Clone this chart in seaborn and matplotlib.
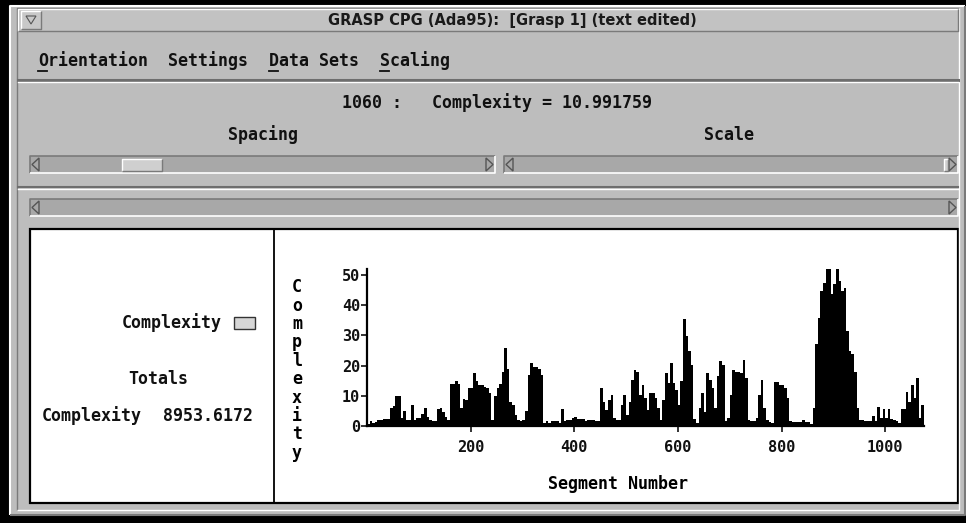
import numpy as np
import pandas as pd
import matplotlib
matplotlib.use("Agg")
import matplotlib.pyplot as plt
import seaborn as sns
from matplotlib.patches import Rectangle, Polygon

# complexity per segment in bins of 5 segments
bin_width = 5
segment_start = list(range(0, 1075, bin_width))
complexity = [
    0.8, 1.5, 1.0, 1.2, 2.0, 2.0, 2.3, 2.3, 2.2, 6.0, 6.5, 10.0, 10.0, 2.5, 5.0, 2.0, 2.0, 7.0, 2.0, 2.5,
    2.5, 4.0, 6.0, 3.0, 2.0, 1.5, 1.5, 5.5, 6.0, 4.5, 3.0, 2.0, 14.0, 14.0, 15.0, 14.0, 6.0, 9.0, 8.5, 12.5,
    12.5, 17.5, 15.0, 13.5, 13.5, 13.0, 12.5, 11.0, 2.0, 10.0, 12.5, 14.0, 18.0, 26.0, 19.0, 8.0, 7.0, 3.5, 2.0, 1.5,
    2.0, 5.0, 17.0, 21.0, 19.5, 19.5, 19.0, 17.0, 1.0, 1.5, 1.0, 1.5, 1.5, 1.5, 1.0, 5.5, 1.5, 2.0, 2.0, 2.8,
    3.0, 2.3, 2.3, 2.3, 1.7, 1.9, 2.0, 1.9, 1.5, 1.5, 12.5, 8.0, 5.3, 8.7, 10.3, 2.5, 2.0, 2.0, 7.0, 10.3,
    3.7, 8.0, 15.3, 18.7, 18.0, 10.3, 13.7, 9.4, 5.3, 11.0, 11.0, 9.2, 5.9, 2.0, 8.6, 17.5, 14.1, 20.8, 14.1, 12.0,
    7.0, 14.8, 35.3, 29.8, 24.8, 20.3, 2.3, 1.0, 5.9, 11.0, 4.8, 17.5, 15.3, 12.5, 5.9, 16.4, 21.4, 20.3, 1.5, 2.5,
    10.3, 18.7, 18.0, 18.0, 17.5, 22.0, 15.8, 2.0, 1.5, 1.5, 2.5, 10.3, 15.3, 5.9, 2.0, 1.2, 0.9, 14.5, 14.5, 13.7,
    13.7, 12.5, 9.2, 1.5, 1.2, 1.2, 1.2, 1.2, 1.9, 1.2, 1.2, 0.6, 5.9, 27.0, 35.8, 44.7, 47.5, 51.9, 51.9, 43.7,
    47.0, 51.9, 48.0, 44.7, 45.7, 31.5, 24.8, 23.7, 18.0, 5.9, 2.0, 2.0, 1.5, 1.5, 1.5, 3.2, 1.5, 6.4, 2.5, 5.5,
    2.5, 5.5, 2.3, 2.0, 1.5, 0.9, 5.5, 5.6, 11.4, 8.0, 13.7, 9.2, 15.8, 2.5, 7.0,
]
x_ticks = [200, 400, 600, 800, 1000]
y_ticks = [0, 10, 20, 30, 40, 50]

window_title = "GRASP CPG (Ada95):  [Grasp 1] (text edited)"
menu_items = ["Orientation", "Settings", "Data Sets", "Scaling"]
status_text = "1060 :   Complexity = 10.991759"
total_text = "8953.6172"

# bin centres so every value falls cleanly inside its own bin
df = pd.DataFrame({"segment": [s + bin_width / 2 for s in segment_start],
                   "complexity": complexity})

W, H = 966, 523
GRAY = "#bdbdbd"
DARK = "#7a7a7a"
MONO = "DejaVu Sans Mono"
FS = 12
INK = "#111111"

fig = plt.figure(figsize=(W / 100, H / 100), dpi=100, facecolor=GRAY)

# background axes in pixel coordinates for the window chrome
bg = fig.add_axes([0, 0, 1, 1])
bg.set_xlim(0, W)
bg.set_ylim(H, 0)
bg.axis("off")


def box(x0, y0, x1, y1, fc, ec="none", lw=0, z=1):
    bg.add_patch(Rectangle((x0, y0), x1 - x0, y1 - y0, facecolor=fc,
                           edgecolor=ec, linewidth=lw, zorder=z))


def bevel(x0, y0, x1, y1, sunken=True, lw=1.2, z=3):
    tl, br = (DARK, "white") if sunken else ("white", DARK)
    bg.plot([x0, x0, x1], [y1, y0, y0], color=tl, lw=lw, zorder=z, solid_capstyle="butt")
    bg.plot([x0, x1, x1], [y1, y1, y0], color=br, lw=lw, zorder=z, solid_capstyle="butt")


def slider(x0, y0, x1, y1, thumb=None):
    box(x0, y0, x1, y1, "#a8a8a8", z=2)
    bevel(x0, y0, x1, y1, sunken=True)
    ym = (y0 + y1) / 2
    h = (y1 - y0) / 2 - 2
    bg.add_patch(Polygon([[x0 + 9, ym - h], [x0 + 2, ym], [x0 + 9, ym + h]],
                         closed=True, facecolor="#a8a8a8", edgecolor="#555555", lw=1, zorder=4))
    bg.add_patch(Polygon([[x1 - 9, ym - h], [x1 - 2, ym], [x1 - 9, ym + h]],
                         closed=True, facecolor="#a8a8a8", edgecolor="#555555", lw=1, zorder=4))
    if thumb is not None:
        box(thumb[0], y0 + 2.5, thumb[1], y1 - 2.5, "#cfcfcf", z=4)
        bevel(thumb[0], y0 + 2.5, thumb[1], y1 - 2.5, sunken=False, lw=1, z=5)


def label(x, y, s, ha="left"):
    bg.text(x, y, s, ha=ha, va="center", fontsize=FS, family=MONO,
            fontweight="bold", color=INK, zorder=6)


# outer dark border and window frame
box(0, 0, W, H, "black", z=0)
box(10, 6, W, 515, GRAY, z=0.5)
bevel(10, 6, W - 1, 515, sunken=False, lw=1.5)
bevel(17, 8, 959, 510, sunken=True, lw=1)

# title bar
box(18, 9, 958, 31, "#c2c2c2", z=1)
bevel(18, 9, 958, 31, sunken=False, lw=1)
box(21, 11, 41, 29, "#c8c8c8", z=2)
bevel(21, 11, 41, 29, sunken=False, lw=1)
bg.add_patch(Polygon([[26, 16], [36, 16], [31, 24]], closed=True, facecolor="none",
                     edgecolor="#555555", lw=0.8, zorder=4))
bg.text(512, 20, window_title, ha="center", va="center", fontsize=10.5,
        fontweight="bold", color="#1a1a1a")

# menu bar
menu_x = [38, 168, 269, 380]
for mx, item in zip(menu_x, menu_items):
    label(mx, 61, item)
    if item != "Settings":
        bg.plot([mx, mx + 9], [71, 71], color=INK, lw=1.3, zorder=3)
bg.plot([18, 958], [80, 80], color="#6e6e6e", lw=2.2, zorder=3)
bg.plot([18, 958], [82, 82], color="white", lw=1, zorder=3)

# status line and slider labels
label(497, 103, status_text, ha="center")
label(263, 135, "Spacing", ha="center")
label(729, 135, "Scale", ha="center")
slider(30, 156, 495, 173, thumb=(122, 162))
slider(504, 156, 958, 173, thumb=(944, 948))

bg.plot([18, 958], [187, 187], color="#6e6e6e", lw=1.5, zorder=3)
bg.plot([18, 958], [189, 189], color="white", lw=1, zorder=3)
slider(30, 199, 958, 216)

# white drawing area
box(30, 229, 958, 503, "white", ec="black", lw=1.6, z=2)
bg.plot([274, 274], [229, 503], color="black", lw=1.3, zorder=3)

# left panel: legend and totals
label(222, 323, "Complexity", ha="right")
box(234, 317, 255, 329, "#d6d6d6", ec="#333333", lw=1, z=4)
label(158, 379, "Totals", ha="center")
label(42, 416, "Complexity")
label(253, 416, total_text, ha="right")

# the chart itself
x0, y0, x1, y1 = 367, 269, 924, 426
ax = fig.add_axes([x0 / W, 1 - y1 / H, (x1 - x0) / W, (y1 - y0) / H])
ax.set_facecolor("none")
sns.histplot(data=df, x="segment", weights="complexity",
             binwidth=bin_width, binrange=(0, 1075),
             color="black", alpha=1, linewidth=0, ax=ax)
ax.set_xlim(0, 1075)
ax.set_ylim(0, 52)
ax.set_xticks(x_ticks)
ax.set_yticks(y_ticks)
for side in ["top", "right"]:
    ax.spines[side].set_visible(False)
for side in ["left", "bottom"]:
    ax.spines[side].set_linewidth(1.6)
    ax.spines[side].set_color("black")
ax.tick_params(axis="both", direction="out", length=4, width=1.2,
               labelsize=11, pad=1, colors=INK)
for lab in ax.get_xticklabels() + ax.get_yticklabels():
    lab.set_fontfamily(MONO)
    lab.set_fontweight("bold")
ax.tick_params(axis="x", pad=6)

ax.set_xlabel("Segment Number", fontsize=FS, family=MONO, fontweight="bold")
ax.xaxis.set_label_coords((618 - x0) / (x1 - x0), (y1 - 475) / (y1 - y0))
ax.set_ylabel("\n".join("Complexity"), rotation=0, fontsize=FS, family=MONO,
              fontweight="bold", linespacing=1.03, ha="center", va="center")
ax.yaxis.set_label_coords((297 - x0) / (x1 - x0), (y1 - 370) / (y1 - y0))

fig.savefig("out.png", dpi=100, facecolor=fig.get_facecolor())
